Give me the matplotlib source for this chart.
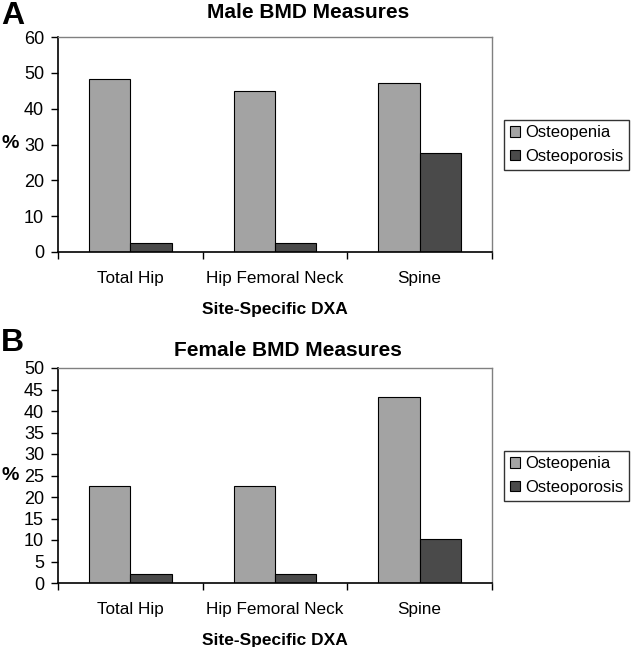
import matplotlib
matplotlib.use("Agg")
import matplotlib.pyplot as plt
import numpy as np

plt.rcParams['font.family'] = ['Liberation Sans', 'DejaVu Sans']

categories = ["Total Hip", "Hip Femoral Neck", "Spine"]
series_names = ["Osteopenia", "Osteoporosis"]
male_osteopenia = [48.3, 44.8, 47.2]
male_osteoporosis = [2.4, 2.4, 27.5]
female_osteopenia = [22.6, 22.6, 43.2]
female_osteoporosis = [2.1, 2.1, 10.2]
male_yticks = [0, 10, 20, 30, 40, 50, 60]
female_yticks = [0, 5, 10, 15, 20, 25, 30, 35, 40, 45, 50]

colors = ["#a3a3a3", "#4a4a4a"]

W, H = 631, 647
fig = plt.figure(figsize=(W / 100, H / 100), dpi=100)

def panel(rect, vals1, vals2, yticks):
    ax = fig.add_axes(rect)
    x = np.arange(len(categories))
    w = 0.285
    ax.bar(x - w/2, vals1, w, color=colors[0], edgecolor="black", linewidth=0.8, label=series_names[0])
    ax.bar(x + w/2, vals2, w, color=colors[1], edgecolor="black", linewidth=0.8, label=series_names[1])
    ax.set_xlim(-0.5, len(categories) - 0.5)
    ax.set_ylim(yticks[0], yticks[-1])
    ax.set_yticks(yticks)
    ax.set_yticklabels([str(t) for t in yticks], fontsize=13)
    ax.set_xticks(np.arange(-0.5, len(categories), 1.0))
    ax.set_xticklabels([])
    ax.set_xticks(x, minor=True)
    ax.set_xticklabels(categories, minor=True, fontsize=12.3)
    ax.tick_params(axis='x', which='minor', length=0, pad=14)
    ax.tick_params(axis='x', which='major', direction='out', length=5, width=1)
    ax.tick_params(axis='y', direction='out', length=5, width=1, pad=5)
    for s in ['top', 'right']:
        ax.spines[s].set_color('#808080')
        ax.spines[s].set_linewidth(1)
    for s in ['left', 'bottom']:
        ax.spines[s].set_color('black')
        ax.spines[s].set_linewidth(1.2)
    ax.set_xlabel("Site-Specific DXA", fontsize=12.5, fontweight='bold', labelpad=11)
    leg = ax.legend(loc='center left', bbox_to_anchor=(1.028, 0.5), borderaxespad=0,
                    fontsize=12, frameon=True, fancybox=False, edgecolor='black',
                    handlelength=0.6, handleheight=0.6, handletextpad=0.3,
                    labelspacing=0.5, borderpad=0.35)
    leg.get_frame().set_linewidth(1)
    return ax

ax1 = panel([58 / W, 1 - 252 / H, 434 / W, 215 / H], male_osteopenia, male_osteoporosis, male_yticks)
ax2 = panel([58 / W, 1 - 583 / H, 434 / W, 215 / H], female_osteopenia, female_osteoporosis, female_yticks)

# titles
fig.text(308 / W, 1 - 13 / H, "Male BMD Measures", fontsize=15, fontweight='bold', ha='center', va='center')
fig.text(288 / W, 1 - 350 / H, "Female BMD Measures", fontsize=15, fontweight='bold', ha='center', va='center')

# "%" y labels
fig.text(1 / W, 1 - 144 / H, "%", fontsize=14, fontweight='bold', ha='left', va='center')
fig.text(1 / W, 1 - 475 / H, "%", fontsize=14, fontweight='bold', ha='left', va='center')

# panel letters
fig.text(0.002, 1 - 1 / H, "A", fontsize=23, fontweight='bold', va='top', ha='left')
fig.text(0.002, 1 - 328 / H, "B", fontsize=23, fontweight='bold', va='top', ha='left')

fig.savefig("out.png", dpi=100)
